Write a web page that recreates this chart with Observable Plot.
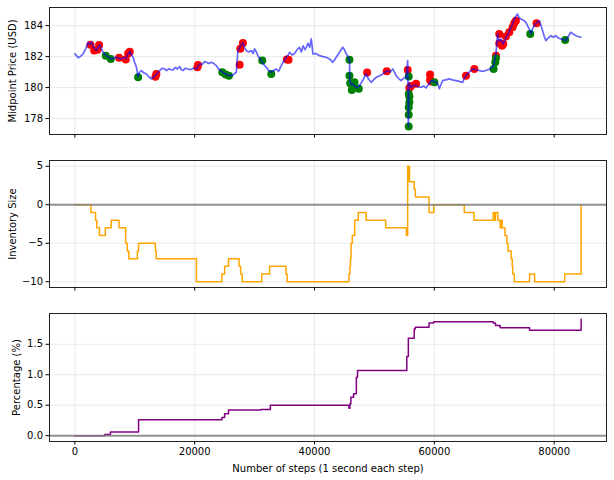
<!DOCTYPE html>
<html><head><meta charset="utf-8">
<script src="https://cdn.jsdelivr.net/npm/d3@7"></script>
<script src="https://cdn.jsdelivr.net/npm/@observablehq/plot@0.6"></script>
<style>
body{margin:0;background:#fff;}
#chart{width:614px;height:480px;}
#chart svg{display:block;}
</style></head><body><div id="chart"></div>
<script>
const priceSteps = [0,300,550,900,1383,1800,2217,2500,2800,3050,3400,3617,3900,4167,4450,4717,5000,5283,5700,6117,6500,6950,7350,7783,8150,8500,8850,9167,9450,9717,10000,10283,10550,10800,11117,11500,11950,12350,12783,13200,13617,13900,14167,14600,15000,15300,15700,16000,16383,16800,17100,17500,17800,18050,18450,18883,19300,19800,20283,20600,20833,21300,21650,21950,22350,22783,23200,23617,24000,24450,24850,25283,25700,26117,26500,26950,27217,27617,28050,28300,28617,29000,29450,29750,30000,30300,30550,30850,31117,31500,31950,32350,32783,33200,33617,34000,34450,34850,35283,35600,35833,36250,36667,37100,37500,37800,38100,38400,38617,38900,39200,39450,39600,39717,40250,40833,41400,41950,42500,43050,43350,43617,44200,44717,45000,45283,45600,45833,45900,46100,46383,46800,47217,47600,48050,48350,48617,49000,49450,49850,50283,50800,51383,51800,52217,52600,53050,53350,53617,54000,54450,54850,55283,55550,55667,55750,56117,56500,56950,57350,57783,58200,58617,59000,59450,59850,60283,60600,60833,61100,61383,61900,62500,63000,63617,64150,64717,65000,65283,65800,66383,66900,67500,68000,68617,69200,69717,70000,70283,70550,70800,71117,71500,71950,72350,72783,73050,73333,73600,73883,74150,74450,74850,75283,75550,75833,76117,76400,76667,77100,77500,77800,78050,78350,78617,79000,79450,79850,80283,80700,81117,81500,81950,82350,82783,83200,83617,84000,84450];
const priceValues = [182.17,182.05,181.92,182.0,182.17,182.5,182.92,182.8,182.95,182.65,182.45,182.39,182.6,182.75,182.5,182.28,182.15,182.06,181.95,181.85,181.9,181.96,181.88,181.85,181.95,181.85,182.15,182.34,182.1,181.96,181.6,181.31,180.71,181.0,181.10,180.95,180.88,180.7,180.56,180.7,180.84,181.0,181.10,181.25,181.2,181.1,181.22,181.15,181.14,181.3,181.2,181.35,181.15,181.10,181.25,181.2,181.15,181.25,181.2,181.4,181.53,181.5,181.68,181.63,181.55,181.63,181.55,181.42,181.2,181.05,180.95,180.84,180.8,180.77,180.85,180.99,182.39,182.65,182.92,182.6,182.39,182.3,182.39,182.2,182.5,182.3,182.06,181.9,181.74,181.5,181.31,181.1,180.99,181.1,181.2,181.05,181.42,181.7,181.96,182.1,182.28,182.1,182.2,182.45,182.6,182.3,182.7,182.45,182.6,182.85,182.6,183.14,182.7,182.17,182.2,182.06,182.0,181.96,181.85,181.63,181.8,181.96,182.3,182.6,182.45,182.17,182.0,181.79,180.5,180.2,180.24,180.05,179.98,180.2,180.45,180.7,180.88,180.55,180.34,180.5,180.66,180.75,180.88,181.0,181.1,181.0,181.2,181.0,180.77,180.6,180.45,180.6,180.66,181.74,177.48,180.3,180.02,180.15,180.13,180.05,180.02,180.1,179.98,180.2,180.45,180.4,180.34,180.2,179.92,180.2,180.45,180.5,180.56,180.5,180.45,180.4,180.34,180.6,180.77,181.0,181.2,181.15,181.1,181.05,181.1,181.2,181.31,181.6,182.17,183.46,183.0,183.14,182.8,183.25,183.5,183.89,184.1,184.43,184.6,184.75,184.5,184.43,184.35,184.21,184.0,183.79,183.46,183.8,184.0,184.2,184.32,184.0,183.68,183.3,183.03,183.2,183.35,183.25,183.35,183.2,183.14,183.1,183.03,183.3,183.57,183.45,183.35,183.3,183.25];

const sellSteps = [2617,3222,3778,4056,7389,8500,8889,9167,13450,13611,20450,20556,27500,27611,28056,35389,35667,48778,52056,55556,55833,56111,56944,59278,59278,59500,65278,66667,70278,70833,70833,71300,71500,71944,72500,73056,73333,73611,77056];
const sellPrices = [182.77,182.39,182.45,182.75,181.92,181.81,182.2,182.32,180.7,180.88,181.32,181.45,181.48,182.5,182.88,181.81,181.8,180.97,181.05,181.14,179.98,180.1,180.24,180.84,180.5,180.4,180.77,181.2,182.06,183.46,182.86,182.7,182.82,183.29,183.57,183.89,184.15,184.32,184.15];
const buySteps = [5167,6000,10556,24611,25167,25722,31278,32778,45833,45833,45944,46222,46389,46667,47389,55722,55722,55833,55833,55722,55722,55722,60000,69889,70167,70278,76000,81833];
const buyPrices = [182.06,181.85,180.66,180.99,180.84,180.77,181.74,180.88,181.79,180.77,180.28,179.85,180.06,180.34,179.92,180.71,179.59,179.4,179.05,178.73,178.24,177.48,180.34,181.2,181.63,181.9,183.46,183.07];

const invSteps = [0,2675,3458,3654,4111,5090,6068,7373,8483,8744,9005,10440,10636,13442,13572,20293,24535,25000,25644,27405,27666,27927,31190,32495,35235,35431,45740,45900,46000,46100,46300,46700,47306,48611,51874,55332,55550,55600,55659,55854,56637,56833,59116,59899,64989,66620,69818,70079,70210,70600,70992,71150,71319,71776,72102,72298,72820,73000,73081,73342,75887,76735,81758,84499];
const invValues = [0,-1,-2,-3,-4,-3,-2,-3,-5,-6,-7,-6,-5,-6,-7,-10,-9,-8,-7,-8,-9,-10,-9,-8,-9,-10,-9,-8,-7,-5,-4,-2,-1,-2,-3,-4,5,3,5,3,2,1,-1,0,-1,-2,-1,-2,-1,-2,-3,-2,-3,-4,-5,-6,-7,-8,-9,-10,-9,-10,-9,0];

const pctSteps = [0,4959,5938,10636,24535,24992,25644,31059,32625,45740,45900,46067,46523,46980,47176,55400,55659,56637,56833,59116,59899,69818,70210,70992,75887,84499];
const pctValues = [0,0.02,0.06,0.26,0.30,0.36,0.42,0.43,0.50,0.45,0.52,0.63,0.69,0.96,1.07,1.30,1.60,1.75,1.78,1.85,1.87,1.85,1.81,1.77,1.73,1.91];

const xTicks = [0,20000,40000,60000,80000];
const priceTicks = [178,180,182,184];
const invTicks = [-10,-5,0,5];
const pctTicks = [0,0.5,1.0,1.5];

const zip = (xs, ys) => xs.map((x, i) => ({x, y: ys[i]}));
const price = zip(priceSteps, priceValues);
const sells = zip(sellSteps, sellPrices);
const buys = zip(buySteps, buyPrices);
const inv = zip(invSteps, invValues);
const pct = zip(pctSteps, pctValues);

const W = 614, ML = 49, MR = 8;
const xDomain = [-4230, 88730];
const font = "'DejaVu Sans', sans-serif";
const gridStyle = {stroke: "#b0b0b0", strokeOpacity: 0.25, strokeWidth: 1};

function panel({height, marginTop, marginBottom, yDomain, yTicks, yFormat, yLabel, labelOffset, marks, showX}) {
  return Plot.plot({
    width: W, height, marginLeft: ML, marginRight: MR, marginTop, marginBottom,
    style: {fontFamily: font, fontSize: "10px", color: "#000", background: "#fff", overflow: "visible"},
    x: {domain: xDomain},
    y: {domain: yDomain},
    marks: [
      Plot.gridX(xTicks, gridStyle),
      Plot.gridY(yTicks, gridStyle),
      ...marks,
      Plot.frame({stroke: "#222", strokeWidth: 1}),
      Plot.axisY(yTicks, {tickSize: 3.5, tickPadding: 3, tickFormat: yFormat, fill: "#000",
        label: yLabel, labelAnchor: "center", labelArrow: "none", labelOffset}),
      Plot.axisX(xTicks, {tickSize: 3.5, tickPadding: 3, fill: "#000",
        tickFormat: showX ? d3.format("d") : () => "",
        label: showX ? "Number of steps (1 second each step)" : null,
        labelAnchor: "center", labelArrow: "none", labelOffset: 30})
    ]
  });
}

const root = document.getElementById("chart");
root.append(panel({
  height: 141, marginTop: 7, marginBottom: 7,
  yDomain: [176.97, 185.17], yTicks: priceTicks, yFormat: d3.format("d"),
  yLabel: "Midpoint Price (USD)", labelOffset: 41, showX: false,
  marks: [
    Plot.dot(sells, {x: "x", y: "y", r: 4, fill: "red"}),
    Plot.dot(buys, {x: "x", y: "y", r: 4, fill: "green"}),
    Plot.line(price, {x: "x", y: "y", stroke: "blue", strokeOpacity: 0.6, strokeWidth: 1.7})
  ]
}));
root.append(panel({
  height: 159, marginTop: 19, marginBottom: 13,
  yDomain: [-10.75, 5.75], yTicks: invTicks, yFormat: d3.format("d"),
  yLabel: "Inventory Size", labelOffset: 41, showX: false,
  marks: [
    Plot.line(inv, {x: "x", y: "y", curve: "step-after", stroke: "orange", strokeWidth: 1.5}),
    Plot.ruleY([0], {stroke: "gray", strokeOpacity: 0.85, strokeWidth: 2})
  ]
}));
root.append(panel({
  height: 180, marginTop: 13, marginBottom: 39,
  yDomain: [-0.0955, 2.0055], yTicks: pctTicks, yFormat: d3.format(".1f"),
  yLabel: "Percentage (%)", labelOffset: 37, showX: true,
  marks: [
    Plot.line(pct, {x: "x", y: "y", curve: "step-after", stroke: "purple", strokeWidth: 1.5}),
    Plot.ruleY([0], {stroke: "gray", strokeOpacity: 0.85, strokeWidth: 2})
  ]
}));
</script></body></html>
